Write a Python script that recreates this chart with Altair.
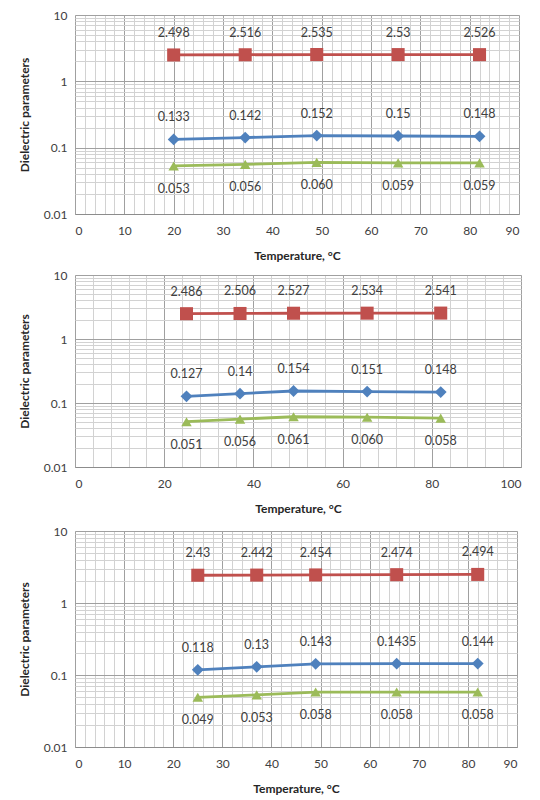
import altair as alt
import pandas as pd

# ---- data ----
temps_1 = [20, 34.5, 49, 65.5, 82]
temps_2 = [25, 37, 49, 65.5, 82]
temps_3 = [25, 37, 49, 65.5, 82]

red_1 = [2.498, 2.516, 2.535, 2.53, 2.526]
blue_1 = [0.133, 0.142, 0.152, 0.15, 0.148]
green_1 = [0.053, 0.056, 0.060, 0.059, 0.059]

red_2 = [2.486, 2.506, 2.527, 2.534, 2.541]
blue_2 = [0.127, 0.14, 0.154, 0.151, 0.148]
green_2 = [0.051, 0.056, 0.061, 0.060, 0.058]

red_3 = [2.43, 2.442, 2.454, 2.474, 2.494]
blue_3 = [0.118, 0.13, 0.143, 0.1435, 0.144]
green_3 = [0.049, 0.053, 0.058, 0.058, 0.058]

series_names = ["red", "blue", "green"]
series_colors = ["#C0504D", "#4F81BD", "#9BBB59"]
series_shapes = ["square", "diamond", "triangle-up"]
series_sizes = [170, 110, 130]

y_grid = [m * 10 ** e for e in (-2, -1, 0) for m in range(1, 10)] + [10]

FONT = "Lato"
TXT = "#404040"


def panel(xs, red, blue, green, xmax, xmajor, xminor, w, h):
    rows = []
    for name, vals in zip(series_names, [red, blue, green]):
        for x, v in zip(xs, vals):
            lab = f"{v:.3f}" if name == "green" else str(v)
            rows.append({"series": name, "x": x, "y": v, "label": lab})
    df = pd.DataFrame(rows)

    x_grid = list(range(0, xmax + 1, xminor))
    xaxis = alt.Axis(
        values=x_grid,
        labelExpr=f"datum.value % {xmajor} == 0 ? datum.label : ''",
        grid=True,
        gridColor={"condition": {"test": f"datum.value % {xmajor} == 0", "value": "#a0a0a0"},
                   "value": "#d2d2d2"},
        ticks=False,
        domainColor="#8c8c8c",
        labelFont=FONT, labelFontSize=12, labelColor=TXT, labelPadding=11,
        title="Temperature, °C", titleFont=FONT, titleFontSize=12,
        titleFontWeight="bold", titleColor="#262626", titlePadding=14,
    )
    major_test = "abs(log(datum.value)/LN10 - round(log(datum.value)/LN10)) < 1e-6"
    yaxis = alt.Axis(
        values=y_grid,
        labelExpr=f"({major_test}) ? format(datum.value, '~g') : ''",
        grid=True,
        gridColor={"condition": {"test": major_test, "value": "#a0a0a0"}, "value": "#d2d2d2"},
        ticks=False,
        domain=False,
        labelFont=FONT, labelFontSize=12, labelColor=TXT, labelPadding=8,
        title="Dielectric parameters", titleFont=FONT, titleFontSize=12,
        titleFontWeight="bold", titleColor="#262626", titlePadding=12,
    )
    xs_enc = alt.X("x:Q", scale=alt.Scale(domain=[0, xmax], nice=False), axis=xaxis)
    ys_enc = alt.Y("y:Q", scale=alt.Scale(type="log", domain=[0.01, 10], nice=False), axis=yaxis)
    color = alt.Color("series:N", scale=alt.Scale(domain=series_names, range=series_colors), legend=None)
    shape = alt.Shape("series:N", scale=alt.Scale(domain=series_names, range=series_shapes), legend=None)
    size = alt.Size("series:N", scale=alt.Scale(domain=series_names, range=series_sizes), legend=None)

    base = alt.Chart(df).encode(x=xs_enc, y=ys_enc)
    lines = base.mark_line(strokeWidth=2.8).encode(color=color, detail="series:N")
    pts = base.mark_point(filled=True, opacity=1).encode(color=color, shape=shape, size=size)
    above = base.transform_filter("datum.series != 'green'").mark_text(
        dy=-22, font=FONT, fontSize=12.5, color=TXT).encode(text="label:N")
    below = base.transform_filter("datum.series == 'green'").mark_text(
        dy=23, font=FONT, fontSize=12.5, color=TXT).encode(text="label:N")
    return alt.layer(lines, pts, above, below).properties(width=w, height=h)


p1 = panel(temps_1, red_1, blue_1, green_1, 90, 10, 2, 444, 199)
p2 = panel(temps_2, red_2, blue_2, green_2, 100, 20, 4, 446, 192)
p3 = panel(temps_3, red_3, blue_3, green_3, 90, 10, 2, 442, 216)

top_two = alt.vconcat(p1, p2, spacing=6)
chart = alt.vconcat(top_two, p3, spacing=9).properties(
    padding={"left": 9, "top": 0, "right": 5, "bottom": 2}
).configure_view(stroke="#a0a0a0").configure(background="white")

chart.save("out.html", embed_options={"renderer": "svg", "actions": False})
